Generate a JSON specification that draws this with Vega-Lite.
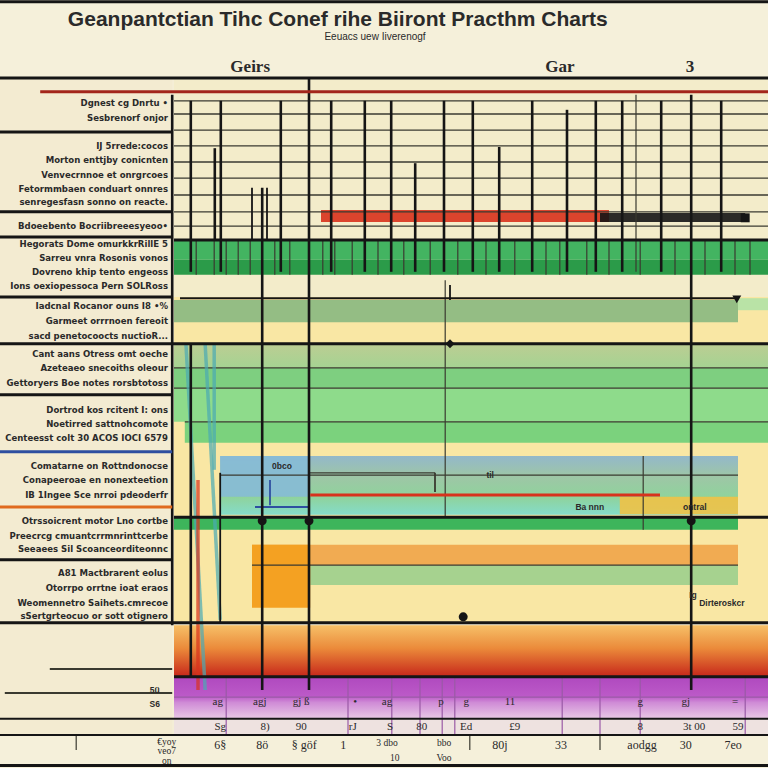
{
"$schema": "https://vega.github.io/schema/vega-lite/v6.json",
"width": 768, "height": 768,
"autosize": {"type": "none"},
"padding": 0,
"background": "#f4eed6",
"config": {"view": {"stroke": null}},
"datasets": {
"rectsBase": [
{"x":-29,"x2":99,"y":0,"y2":13,"kind":"paper"},
{"x":-29,"x2":-0.3,"y":13,"y2":128,"kind":"labelcol"},
{"x":0,"x2":99,"y":13,"y2":49.5,"kind":"cream"},
{"x":0,"x2":99,"y":49.5,"y2":103.8,"kind":"yellow"},
{"x":0,"x2":99,"y":40,"y2":43.3,"kind":"greenA"},
{"x":0,"x2":99,"y":43.3,"y2":45.8,"kind":"greenB"},
{"x":0,"x2":94,"y":50,"y2":53.7,"kind":"sage"},
{"x":94,"x2":99,"y":49.7,"y2":51.7,"kind":"palegreen"},
{"x":0,"x2":99,"y":61.3,"y2":64.7,"kind":"mint"},
{"x":0,"x2":99,"y":64.7,"y2":70.3,"kind":"leaf"},
{"x":1.8,"x2":99,"y":70.3,"y2":73.8,"kind":"leaf2"},
{"x":0,"x2":94,"y":86.2,"y2":88.3,"kind":"grass"},
{"x":13,"x2":94,"y":90.8,"y2":94.2,"kind":"peach"},
{"x":22.7,"x2":94,"y":94.2,"y2":97.5,"kind":"celery"},
{"x":13,"x2":22.7,"y":90.8,"y2":101.3,"kind":"amber"},
{"x":0,"x2":99,"y":119.8,"y2":122.5,"kind":"lilac"},
{"x":-29,"x2":99,"y":122.5,"y2":128,"kind":"paper"}
],
"rectsOver": [
{"x":7.7,"x2":22.7,"y":76,"y2":82.8,"kind":"skyblue"},
{"x":74.3,"x2":94,"y":82.8,"y2":85.7,"kind":"gold"},
{"x":24.5,"x2":72.5,"y":35,"y2":37,"kind":"scarlet"},
{"x":71,"x2":95.2,"y":35.5,"y2":37,"kind":"ink"}
],
"hThick": [
{"x":-29,"x2":99,"y":0.3,"kind":"ink"},
{"x":-29,"x2":99,"y":13,"kind":"ink"},
{"x":-22.3,"x2":99,"y":15.3,"kind":"crimson"},
{"x":0,"x2":99,"y":40,"kind":"ink"},
{"x":-29,"x2":-0.3,"y":39.5,"kind":"ink"},
{"x":-29,"x2":-0.3,"y":22,"kind":"ink"},
{"x":-29,"x2":-0.3,"y":35.3,"kind":"ink"},
{"x":-29,"x2":-0.3,"y":49.5,"kind":"ink"},
{"x":-29,"x2":99,"y":57.3,"kind":"ink"},
{"x":-29,"x2":-0.3,"y":65.8,"kind":"ink"},
{"x":-29,"x2":-0.3,"y":75.3,"kind":"blue"},
{"x":-29,"x2":-0.3,"y":84.5,"kind":"orangeline"},
{"x":0,"x2":99,"y":86.2,"kind":"ink"},
{"x":-29,"x2":-0.3,"y":93.3,"kind":"ink"},
{"x":-29,"x2":99,"y":103.8,"kind":"ink"},
{"x":0,"x2":99,"y":112.8,"kind":"ink"},
{"x":22.7,"x2":81,"y":82.5,"kind":"scarlet"},
{"x":-29,"x2":99,"y":127.6,"kind":"ink"}
],
"hMed": [
{"x":1,"x2":94,"y":49.7,"kind":"ink"},
{"x":-29,"x2":99,"y":119.8,"kind":"ink"},
{"x":-29,"x2":99,"y":122.5,"kind":"ink"},
{"x":13.5,"x2":22.5,"y":84.5,"kind":"blue"},
{"x":-20.7,"x2":-0.3,"y":111.5,"kind":"grid"},
{"x":-28.2,"x2":-0.3,"y":115.5,"kind":"grid"}
],
"hThin": [
{"x":0,"x2":99,"y":16.8,"kind":"grid"},
{"x":0,"x2":99,"y":19,"kind":"grid"},
{"x":0,"x2":99,"y":21.7,"kind":"grid"},
{"x":0,"x2":99,"y":24.3,"kind":"grid"},
{"x":0,"x2":99,"y":27,"kind":"grid"},
{"x":0,"x2":99,"y":29.7,"kind":"grid"},
{"x":0,"x2":99,"y":32.5,"kind":"grid"},
{"x":0,"x2":99,"y":35.3,"kind":"grid"},
{"x":0,"x2":99,"y":37.7,"kind":"grid"},
{"x":0,"x2":99,"y":61.3,"kind":"grid"},
{"x":0,"x2":99,"y":64.7,"kind":"grid"},
{"x":1.8,"x2":99,"y":70.3,"kind":"grid"},
{"x":7.7,"x2":94,"y":79.2,"kind":"grid"},
{"x":22.5,"x2":43.5,"y":78.8,"kind":"grid"},
{"x":13,"x2":94,"y":94.2,"kind":"grid"},
{"x":0,"x2":99,"y":116.2,"kind":"purpleline"}
],
"vThick": [
{"x":2.8,"y":16.8,"y2":45.3,"kind":"ink"},
{"x":2.8,"y":57.3,"y2":112.8,"kind":"ink"},
{"x":7.8,"y":16.8,"y2":45.3,"kind":"ink"},
{"x":17.8,"y":16.8,"y2":45.3,"kind":"ink"},
{"x":14.7,"y":31.3,"y2":115,"kind":"ink"},
{"x":22.5,"y":13,"y2":115,"kind":"ink"},
{"x":26.2,"y":16.8,"y2":45.3,"kind":"ink"},
{"x":31.8,"y":16.8,"y2":45.3,"kind":"ink"},
{"x":36.2,"y":16.8,"y2":45.3,"kind":"ink"},
{"x":45,"y":16.8,"y2":45.3,"kind":"ink"},
{"x":49.8,"y":16.8,"y2":45.3,"kind":"ink"},
{"x":59.7,"y":16.8,"y2":45.3,"kind":"ink"},
{"x":70.3,"y":16.8,"y2":45.3,"kind":"ink"},
{"x":74.7,"y":16.8,"y2":45.3,"kind":"ink"},
{"x":81.2,"y":16.8,"y2":45.3,"kind":"ink"},
{"x":86.2,"y":15.8,"y2":115,"kind":"ink"},
{"x":91.2,"y":16.8,"y2":45.3,"kind":"ink"},
{"x":6.8,"y":24.7,"y2":40,"kind":"ink"},
{"x":40.2,"y":27.2,"y2":45.3,"kind":"ink"},
{"x":54.2,"y":24.5,"y2":45.3,"kind":"ink"},
{"x":65.5,"y":18.3,"y2":45.3,"kind":"ink"},
{"x":-0.3,"y":15.8,"y2":104.2,"kind":"ink"}
],
"vMed": [
{"x":13,"y":31.3,"y2":40,"kind":"ink"},
{"x":15.5,"y":31.3,"y2":40,"kind":"ink"},
{"x":7.7,"y":78.8,"y2":103.8,"kind":"ink"},
{"x":46,"y":47.5,"y2":50,"kind":"ink"},
{"x":43.5,"y":78.8,"y2":82,"kind":"grid"},
{"x":16,"y":80,"y2":84.2,"kind":"blue"}
],
"vThin": [
{"x":45.2,"y":46.7,"y2":86.2,"kind":"grid"},
{"x":78.2,"y":76,"y2":88.3,"kind":"grid"},
{"x":77,"y":15.8,"y2":45.3,"kind":"grid"},
{"x":3.7,"y":40,"y2":45.8,"kind":"grid"},
{"x":6.7,"y":40,"y2":45.8,"kind":"grid"},
{"x":8.7,"y":40,"y2":45.8,"kind":"grid"},
{"x":10.7,"y":40,"y2":45.8,"kind":"grid"},
{"x":12.7,"y":40,"y2":45.8,"kind":"grid"},
{"x":16.8,"y":40,"y2":45.8,"kind":"grid"},
{"x":19.3,"y":40,"y2":45.8,"kind":"grid"},
{"x":24.8,"y":40,"y2":45.8,"kind":"grid"},
{"x":26.8,"y":40,"y2":45.8,"kind":"grid"},
{"x":29.7,"y":40,"y2":45.8,"kind":"grid"},
{"x":34,"y":40,"y2":45.8,"kind":"grid"},
{"x":38.3,"y":40,"y2":45.8,"kind":"grid"},
{"x":42.7,"y":40,"y2":45.8,"kind":"grid"},
{"x":47.3,"y":40,"y2":45.8,"kind":"grid"},
{"x":52,"y":40,"y2":45.8,"kind":"grid"},
{"x":56.8,"y":40,"y2":45.8,"kind":"grid"},
{"x":62,"y":40,"y2":45.8,"kind":"grid"},
{"x":64.3,"y":40,"y2":45.8,"kind":"grid"},
{"x":68.8,"y":40,"y2":45.8,"kind":"grid"},
{"x":72.5,"y":40,"y2":45.8,"kind":"grid"},
{"x":77.7,"y":40,"y2":45.8,"kind":"grid"},
{"x":83.5,"y":40,"y2":45.8,"kind":"grid"},
{"x":88.5,"y":40,"y2":45.8,"kind":"grid"},
{"x":93.5,"y":40,"y2":45.8,"kind":"grid"},
{"x":96,"y":40,"y2":45.8,"kind":"grid"},
{"x":8.7,"y":113,"y2":122.5,"kind":"purpleline"},
{"x":29,"y":113,"y2":122.5,"kind":"purpleline"},
{"x":36.3,"y":113,"y2":122.5,"kind":"purpleline"},
{"x":41,"y":113,"y2":122.5,"kind":"purpleline"},
{"x":44.7,"y":113,"y2":122.5,"kind":"purpleline"},
{"x":46.8,"y":113,"y2":122.5,"kind":"purpleline"},
{"x":64.7,"y":113,"y2":122.5,"kind":"purpleline"},
{"x":71,"y":113,"y2":122.5,"kind":"purpleline"},
{"x":77.7,"y":113,"y2":122.5,"kind":"purpleline"},
{"x":95.2,"y":113,"y2":122.5,"kind":"purpleline"},
{"x":-16.3,"y":122.5,"y2":125,"kind":"grid"},
{"x":49.3,"y":122.5,"y2":125,"kind":"grid"},
{"x":71,"y":122.5,"y2":125,"kind":"grid"}
],
"diag": [
{"x":2,"x2":5.2,"y":57.5,"y2":115,"kind":"teal"},
{"x":5.2,"x2":7.7,"y":57.5,"y2":103.3,"kind":"teal"},
{"x":6.7,"x2":6.7,"y":57.5,"y2":78.3,"kind":"teal"},
{"x":4,"x2":4,"y":80,"y2":115,"kind":"scarlet"}
],
"marks": [
{"x":46,"y":57.3,"sym":"node","kind":"ink"},
{"x":48.2,"y":102.8,"sym":"dot","kind":"ink"},
{"x":93.8,"y":49.9,"sym":"end","kind":"ink"},
{"x":95.2,"y":36.3,"sym":"cap","kind":"ink"},
{"x":14.7,"y":86.8,"sym":"dot","kind":"ink"},
{"x":22.5,"y":86.8,"sym":"dot","kind":"ink"},
{"x":86.2,"y":86.8,"sym":"dot","kind":"ink"}
],
"texts": [
{"x":27.3,"y":3.3,"text":"Geanpantctian Tihc Conef rihe Biiront Practhm Charts","role":"title","kind":"text"},
{"x":33.5,"y":6.2,"text":"Eeuacs uew Iiverenogf","role":"subtitle","kind":"text"},
{"x":12.7,"y":11.2,"text":"Geirs","role":"header","kind":"text"},
{"x":64.3,"y":11.2,"text":"Gar","role":"header","kind":"text"},
{"x":86,"y":11.2,"text":"3","role":"header","kind":"text"},
{"x":-1,"y":17.2,"text":"Dgnest cg Dnrtu •","role":"label","kind":"text"},
{"x":-1,"y":19.7,"text":"Sesbrenorf onjor","role":"label","kind":"text"},
{"x":-1,"y":24.3,"text":"IJ 5rrede:cocos","role":"label","kind":"text"},
{"x":-1,"y":26.7,"text":"Morton enttjby conicnten","role":"label","kind":"text"},
{"x":-1,"y":29.2,"text":"Venvecrnnoe et onrgrcoes","role":"label","kind":"text"},
{"x":-1,"y":31.5,"text":"Fetormmbaen conduart onnres","role":"label","kind":"text"},
{"x":-1,"y":33.7,"text":"senregesfasn sonno on reacte.","role":"label","kind":"text"},
{"x":-1,"y":37.7,"text":"Bdoeebento Bocriibreeesyeoo•","role":"label","kind":"text"},
{"x":-1,"y":40.7,"text":"Hegorats Dome omurkkrRillE 5","role":"label","kind":"text"},
{"x":-1,"y":43,"text":"Sarreu vnra Rosonis vonos","role":"label","kind":"text"},
{"x":-1,"y":45.3,"text":"Dovreno khip tento engeoss","role":"label","kind":"text"},
{"x":-1,"y":47.7,"text":"Ions oexiopessoca Pern SOLRoss","role":"label","kind":"text"},
{"x":-1,"y":51,"text":"Iadcnal Rocanor ouns I8 •%","role":"label","kind":"text"},
{"x":-1,"y":53.5,"text":"Garmeet orrrnoen fereoit","role":"label","kind":"text"},
{"x":-1,"y":56,"text":"sacd penetocoocts nuctioR...","role":"label","kind":"text"},
{"x":-1,"y":59,"text":"Cant aans Otress omt oeche","role":"label","kind":"text"},
{"x":-1,"y":61.3,"text":"Azeteaeo snecoiths oleour","role":"label","kind":"text"},
{"x":-1,"y":63.8,"text":"Gettoryers Boe notes rorsbtotoss","role":"label","kind":"text"},
{"x":-1,"y":68.3,"text":"Dortrod kos rcitent I: ons","role":"label","kind":"text"},
{"x":-1,"y":70.7,"text":"Noetirred sattnohcomote","role":"label","kind":"text"},
{"x":-1,"y":73,"text":"Centeesst colt 30 ACOS IOCI 6579","role":"label","kind":"text"},
{"x":-1,"y":77.7,"text":"Comatarne on Rottndonocse","role":"label","kind":"text"},
{"x":-1,"y":80,"text":"Conapeeroae en nonexteetion","role":"label","kind":"text"},
{"x":-1,"y":82.5,"text":"IB 1Ingee Sce nrroi pdeoderfr","role":"label","kind":"text"},
{"x":-1,"y":86.8,"text":"Otrssoicrent motor Lno cortbe","role":"label","kind":"text"},
{"x":-1,"y":89.3,"text":"Preecrcg cmuantcrrmnrinttcerbe","role":"label","kind":"text"},
{"x":-1,"y":91.5,"text":"Seeaees Sil Scoanceorditeonnc","role":"label","kind":"text"},
{"x":-1,"y":95.5,"text":"A81 Mactbrarent eolus","role":"label","kind":"text"},
{"x":-1,"y":98,"text":"Otorrpo orrtne ioat eraos","role":"label","kind":"text"},
{"x":-1,"y":100.5,"text":"Weomennetro Saihets.cmrecoe","role":"label","kind":"text"},
{"x":-1,"y":102.7,"text":"sSertgrteocuo or sott otignero","role":"label","kind":"text"},
{"x":-3.2,"y":115,"text":"5ü","role":"note","kind":"text"},
{"x":-3.2,"y":117.3,"text":"S6","role":"note","kind":"text"},
{"x":18,"y":77.7,"text":"0bco","role":"note","kind":"text"},
{"x":52.7,"y":79.2,"text":"til","role":"note","kind":"text"},
{"x":69.3,"y":84.5,"text":"Ba nnn","role":"note","kind":"text"},
{"x":86.8,"y":84.5,"text":"ontral","role":"note","kind":"text"},
{"x":91.3,"y":100.5,"text":"Dirteroskcr","role":"note","kind":"text"},
{"x":86.5,"y":99.2,"text":"Ig","role":"note","kind":"text"},
{"x":7.3,"y":117,"text":"ag","role":"tickA","kind":"text"},
{"x":14.3,"y":117,"text":"agj","role":"tickA","kind":"text"},
{"x":21.2,"y":117,"text":"gj ß","role":"tickA","kind":"text"},
{"x":30.2,"y":117,"text":"•","role":"tickA","kind":"text"},
{"x":35.5,"y":117,"text":"ag","role":"tickA","kind":"text"},
{"x":44.5,"y":117,"text":"p","role":"tickA","kind":"text"},
{"x":48.7,"y":117,"text":"g","role":"tickA","kind":"text"},
{"x":56,"y":117,"text":"11","role":"tickA","kind":"text"},
{"x":77.7,"y":117,"text":"g","role":"tickA","kind":"text"},
{"x":85.3,"y":117,"text":"gj","role":"tickA","kind":"text"},
{"x":93.5,"y":117,"text":"=","role":"tickA","kind":"text"},
{"x":7.7,"y":121.2,"text":"Sg","role":"tickB","kind":"text"},
{"x":15.2,"y":121.2,"text":"8)","role":"tickB","kind":"text"},
{"x":21.2,"y":121.2,"text":"90","role":"tickB","kind":"text"},
{"x":29.8,"y":121.2,"text":"rJ","role":"tickB","kind":"text"},
{"x":36,"y":121.2,"text":"S","role":"tickB","kind":"text"},
{"x":41.3,"y":121.2,"text":"80","role":"tickB","kind":"text"},
{"x":48.7,"y":121.2,"text":"Ed","role":"tickB","kind":"text"},
{"x":56.8,"y":121.2,"text":"£9","role":"tickB","kind":"text"},
{"x":77.7,"y":121.2,"text":"8","role":"tickB","kind":"text"},
{"x":86.7,"y":121.2,"text":"3t 00","role":"tickB","kind":"text"},
{"x":94,"y":121.2,"text":"59","role":"tickB","kind":"text"},
{"x":-1.2,"y":123.7,"text":"€yoy","role":"tickD","kind":"text"},
{"x":-1.2,"y":125.2,"text":"veo7","role":"tickD","kind":"text"},
{"x":-1.2,"y":126.8,"text":"on","role":"tickD","kind":"text"},
{"x":7.7,"y":124.2,"text":"6§","role":"tickC","kind":"text"},
{"x":14.7,"y":124.2,"text":"8ö","role":"tickC","kind":"text"},
{"x":21.7,"y":124.2,"text":"§ göf","role":"tickC","kind":"text"},
{"x":28.2,"y":124.2,"text":"1","role":"tickC","kind":"text"},
{"x":35.5,"y":123.8,"text":"3 dbo","role":"tickD","kind":"text"},
{"x":36.8,"y":126.3,"text":"10","role":"tickD","kind":"text"},
{"x":45,"y":123.8,"text":"bbo","role":"tickD","kind":"text"},
{"x":45,"y":126.3,"text":"Voo","role":"tickD","kind":"text"},
{"x":54.3,"y":124.2,"text":"80j","role":"tickC","kind":"text"},
{"x":64.5,"y":124.2,"text":"33","role":"tickC","kind":"text"},
{"x":78,"y":124.2,"text":"aodgg","role":"tickC","kind":"text"},
{"x":85.3,"y":124.2,"text":"30","role":"tickC","kind":"text"},
{"x":93.2,"y":124.2,"text":"7eo","role":"tickC","kind":"text"}
]
},
"encoding": {
"x": {"field":"x","type":"quantitative","scale":{"domain":[-29,99],"nice":false,"zero":false},"axis":null},
"y": {"field":"y","type":"quantitative","scale":{"domain":[0,128],"reverse":true,"nice":false,"zero":false},"axis":null},
"color": {"field":"kind","type":"nominal","legend":null,"scale":{
"domain":["paper","labelcol","cream","yellow","greenA","greenB","sage","palegreen","mint","leaf","leaf2","grass","peach","celery","amber","skyblue","gold","lilac","ink","grid","crimson","scarlet","blue","teal","orangeline","purpleline","text"],
"range":["#f5f0da","#f3ebd1","#f3ecca","#f9e7a4","#43b461","#2b9b49","#94bd84","#b9e3a6","#7ecf80","#8edb8b","#7bd27d","#3db55b","#f1ab52","#a6d28f","#f4a122","#86bbd6","#efc246","#eee2e0","#151515","#3a3a30","#a3261b","#d8321c","#2e4fa0","#4aa9b3","#e06a1e","#9a5aa6","#2a2a2a"]}}
},
"layer": [
{"data":{"name":"rectsBase"},"mark":{"type":"rect","opacity":1},"encoding":{"x2":{"field":"x2"},"y2":{"field":"y2"}}},
{"data":{"values":[{"x":0,"x2":99,"y":57.3,"y2":61.3}]},"mark":{"type":"rect"},"encoding":{"x2":{"field":"x2"},"y2":{"field":"y2"},"color":{"value":{"gradient":"linear","x1":0,"y1":0,"x2":0,"y2":1,"stops":[{"offset":0,"color":"#bccd93"},{"offset":1,"color":"#a5d392"}]}}}},
{"data":{"values":[{"x":7.7,"x2":94,"y":76,"y2":85.8}]},"mark":{"type":"rect"},"encoding":{"x2":{"field":"x2"},"y2":{"field":"y2"},"color":{"value":{"gradient":"linear","x1":0,"y1":0,"x2":0,"y2":1,"stops":[{"offset":0,"color":"#93b8ca"},{"offset":0.35,"color":"#9ec6a6"},{"offset":0.7,"color":"#8fd39c"},{"offset":1,"color":"#84dcca"}]}}}},
{"data":{"values":[{"x":0,"x2":99,"y":104.2,"y2":112.8}]},"mark":{"type":"rect"},"encoding":{"x2":{"field":"x2"},"y2":{"field":"y2"},"color":{"value":{"gradient":"linear","x1":0,"y1":0,"x2":0,"y2":1,"stops":[{"offset":0,"color":"#f6c068"},{"offset":0.45,"color":"#eb8a3a"},{"offset":1,"color":"#c6261a"}]}}}},
{"data":{"values":[{"x":0,"x2":99,"y":113,"y2":119.8}]},"mark":{"type":"rect"},"encoding":{"x2":{"field":"x2"},"y2":{"field":"y2"},"color":{"value":{"gradient":"linear","x1":0,"y1":0,"x2":0,"y2":1,"stops":[{"offset":0,"color":"#b04abf"},{"offset":0.45,"color":"#bc5ac8"},{"offset":0.6,"color":"#cf8bd6"},{"offset":1,"color":"#e9c9e6"}]}}}},
{"data":{"name":"rectsOver"},"mark":{"type":"rect","opacity":0.9},"encoding":{"x2":{"field":"x2"},"y2":{"field":"y2"}}},
{"data":{"name":"hThin"},"mark":{"type":"rule","strokeWidth":1.3},"encoding":{"x2":{"field":"x2"}}},
{"data":{"name":"vThin"},"mark":{"type":"rule","strokeWidth":1.2},"encoding":{"y2":{"field":"y2"}}},
{"data":{"name":"diag"},"mark":{"type":"rule","strokeWidth":3.5,"opacity":0.7},"encoding":{"x2":{"field":"x2"},"y2":{"field":"y2"}}},
{"data":{"name":"hMed"},"mark":{"type":"rule","strokeWidth":2},"encoding":{"x2":{"field":"x2"}}},
{"data":{"name":"vMed"},"mark":{"type":"rule","strokeWidth":1.8},"encoding":{"y2":{"field":"y2"}}},
{"data":{"name":"vThick"},"mark":{"type":"rule","strokeWidth":2.6},"encoding":{"y2":{"field":"y2"}}},
{"data":{"name":"hThick"},"mark":{"type":"rule","strokeWidth":3},"encoding":{"x2":{"field":"x2"}}},
{"data":{"name":"marks"},"mark":{"type":"point","filled":true,"size":80,"opacity":1},"encoding":{"shape":{"field":"sym","type":"nominal","legend":null,"scale":{"domain":["node","end","dot","cap"],"range":["diamond","triangle-down","circle","square"]}}}},
{"data":{"name":"texts"},"transform":[{"filter":"datum.role === 'title'"}],"mark":{"type":"text","font":"Liberation Sans","fontSize":21,"fontWeight":"bold","align":"center","baseline":"middle"},"encoding":{"text":{"field":"text"}}},
{"data":{"name":"texts"},"transform":[{"filter":"datum.role === 'subtitle'"}],"mark":{"type":"text","font":"Liberation Sans","fontSize":10,"align":"center","baseline":"middle"},"encoding":{"text":{"field":"text"}}},
{"data":{"name":"texts"},"transform":[{"filter":"datum.role === 'header'"}],"mark":{"type":"text","font":"Liberation Serif","fontSize":17,"fontWeight":"bold","align":"center","baseline":"middle"},"encoding":{"text":{"field":"text"}}},
{"data":{"name":"texts"},"transform":[{"filter":"datum.role === 'label'"}],"mark":{"type":"text","font":"Liberation Sans Narrow, DejaVu Sans Condensed, Liberation Sans","fontSize":9.5,"fontWeight":"bold","align":"right","baseline":"middle"},"encoding":{"text":{"field":"text"}}},
{"data":{"name":"texts"},"transform":[{"filter":"datum.role === 'note'"}],"mark":{"type":"text","font":"Liberation Sans","fontSize":8.5,"fontWeight":"bold","align":"center","baseline":"middle"},"encoding":{"text":{"field":"text"}}},
{"data":{"name":"texts"},"transform":[{"filter":"datum.role === 'tickA' || datum.role === 'tickB'"}],"mark":{"type":"text","font":"Liberation Serif","fontSize":11,"align":"center","baseline":"middle"},"encoding":{"text":{"field":"text"}}},
{"data":{"name":"texts"},"transform":[{"filter":"datum.role === 'tickC'"}],"mark":{"type":"text","font":"Liberation Serif","fontSize":12,"align":"center","baseline":"middle"},"encoding":{"text":{"field":"text"}}},
{"data":{"name":"texts"},"transform":[{"filter":"datum.role === 'tickD'"}],"mark":{"type":"text","font":"Liberation Serif","fontSize":9.5,"align":"center","baseline":"middle"},"encoding":{"text":{"field":"text"}}}
]
}
